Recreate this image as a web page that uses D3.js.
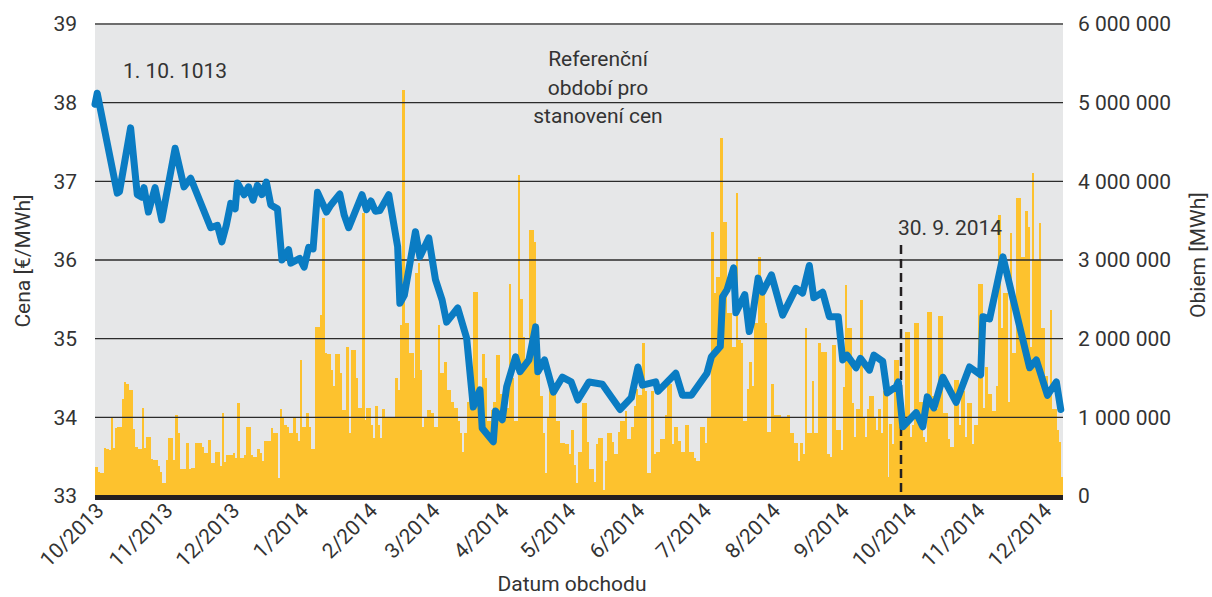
<!DOCTYPE html>
<html>
<head>
<meta charset="utf-8">
<script src="https://cdn.jsdelivr.net/npm/d3@7"></script>
<style>
  body { margin: 0; background: #fff; }
  text { font-family: Roboto, "Noto Sans", sans-serif; fill: #333; }
</style>
</head>
<body>
<svg id="chart"></svg>
<script>
// data period
const START = "2013-10-01";
const END = "2014-12-10";
const REF_END = "2014-09-30";

const monthTicks = ["2013-10-01", "2013-11-01", "2013-12-01", "2014-01-01", "2014-02-01", "2014-03-01",
    "2014-04-01", "2014-05-01", "2014-06-01", "2014-07-01", "2014-08-01", "2014-09-01",
    "2014-10-01", "2014-11-01", "2014-12-01"];
const priceTicks = [33, 34, 35, 36, 37, 38, 39];
const volumeTicks = [0, 1000000, 2000000, 3000000, 4000000, 5000000, 6000000];

// daily volume, thousands of MWh, from 1.10.2013
const volumeK = [
    370,300,290,290,610,600,580,990,610,870,
    880,880,1230,1450,1420,1350,1350,850,620,600,
    600,1120,610,750,750,470,460,460,380,300,
    165,170,460,740,740,460,1030,800,340,340,
    340,670,340,350,350,680,680,680,620,550,
    550,710,420,420,560,560,380,1050,430,520,
    520,520,550,480,1180,480,480,520,880,880,
    520,500,500,600,550,450,700,700,700,860,
    800,800,230,1100,1000,900,880,800,800,1000,
    800,700,1730,880,880,1050,880,600,600,2150,
    2150,2300,3530,1820,1800,1800,1600,1400,1800,1800,
    1560,1090,1090,1890,800,1850,1850,1500,1120,1120,
    3600,970,1120,1120,900,740,1150,900,740,1100,
    1000,990,990,1010,1010,1500,1350,2170,5160,2200,
    2200,1820,1820,1500,2830,2960,1600,880,1000,1090,
    1090,1050,880,880,2170,1560,1560,1700,1350,1350,
    1200,1120,1120,950,800,560,800,1200,1600,1600,
    2590,2590,1330,1330,1800,1500,950,950,1090,1200,
    1790,1790,1300,950,1120,1120,2700,1500,950,950,
    4080,2500,2020,1690,1690,3380,3380,3230,1930,1930,
    1270,800,290,1000,1420,1400,1330,950,950,670,
    670,660,660,540,840,400,160,560,560,1180,
    1180,690,340,340,180,660,740,740,80,450,
    800,800,690,530,530,810,950,950,1080,720,
    720,880,1150,1360,1290,1290,1940,1340,290,290,
    1330,540,560,560,720,720,1030,1430,1430,660,
    880,880,700,560,560,900,900,560,560,480,
    440,440,880,880,670,1010,1010,3360,2580,2790,
    2790,4550,3480,3480,2320,2320,1890,1890,3850,1980,
    1950,950,950,1360,1700,1400,2200,2200,3040,2580,
    2580,2200,810,810,1420,1030,1030,1030,1000,990,
    990,1030,800,800,670,670,440,670,540,2140,
    800,800,1460,800,800,1940,1830,1830,1830,540,
    490,1920,1920,840,840,580,1390,2680,2140,2140,
    1180,750,1100,1100,2490,1000,750,1100,1270,1270,
    990,840,1100,800,1340,1340,240,920,660,1730,
    1730,900,1060,900,2090,2090,750,900,2200,2200,
    1200,1200,750,690,2340,2340,1270,1270,1100,2290,
    2290,1060,1060,720,620,620,1470,1470,900,1340,
    1340,750,1180,1180,660,900,900,2700,2700,1120,
    1640,1300,1300,1080,1080,1400,3570,2140,2580,2580,
    1200,3340,1820,1820,3790,3790,3040,3040,3620,3420,
    1890,4100,3000,3000,3470,2140,2140,1530,1270,2360,
    1100,1100,840,690,240
];

// price line: day offset from 1.10.2013 and price in EUR/MWh
const priceDay = [0,1,10,11,16,19,21,22,24,27,30,36,40,43,46,52,55,57,59,61,63,64,67,69,71,73,75,77,79,82,
    84,87,88,92,94,96,98,100,104,106,110,112,114,120,122,124,126,128,132,136,137,139,144,146,150,153,156,158,163,167,
    170,173,174,179,180,183,185,189,191,195,198,199,202,206,210,214,217,222,228,231,236,241,244,246,252,253,261,264,268,275,
    277,281,282,284,287,288,292,294,295,298,300,304,309,315,318,321,323,327,330,334,336,338,342,344,348,350,354,356,360,361,
    363,369,372,374,377,381,387,393,398,399,402,408,420,423,428,432,434];
const price = [37.98,38.12,36.85,36.87,37.68,36.83,36.80,36.92,36.61,36.92,36.51,37.42,36.93,37.04,36.83,36.41,36.44,36.23,36.44,36.72,36.65,36.98,36.83,36.93,36.76,36.95,36.83,36.99,36.70,36.65,
    36.00,36.13,35.96,36.02,35.91,36.16,36.14,36.86,36.61,36.70,36.84,36.57,36.41,36.83,36.64,36.75,36.62,36.63,36.83,36.17,35.45,35.55,36.36,36.04,36.28,35.75,35.49,35.21,35.39,35.01,
    34.13,34.35,33.86,33.69,34.08,33.97,34.39,34.77,34.58,34.73,35.15,34.58,34.73,34.32,34.51,34.45,34.22,34.45,34.42,34.30,34.10,34.25,34.64,34.41,34.45,34.33,34.56,34.28,34.28,34.56,
    34.77,34.90,35.53,35.62,35.90,35.33,35.56,35.09,35.20,35.77,35.59,35.81,35.30,35.64,35.58,35.93,35.52,35.59,35.28,35.28,34.73,34.79,34.63,34.75,34.60,34.79,34.71,34.31,34.39,34.45,
    33.88,34.06,33.88,34.26,34.12,34.51,34.19,34.64,34.54,35.28,35.25,36.04,34.63,34.73,34.28,34.45,34.10];

drawChart();

function drawChart() {
    const WIDTH = 1212, HEIGHT = 597;
    const LEFT = 95, RIGHT = 1063, TOP = 24, BOTTOM = 496;

    const parse = d3.timeParse("%Y-%m-%d");
    const t0 = parse(START);
    const x = d3.scaleTime().domain([t0, parse(END)]).range([LEFT, RIGHT]);
    const yPrice = d3.scaleLinear().domain([33, 39]).range([BOTTOM, TOP]);
    const yVol = d3.scaleLinear().domain([0, 6000000]).range([BOTTOM, TOP]);

    const svg = d3.select("#chart").attr("width", WIDTH).attr("height", HEIGHT);

    // plot background
    svg.append("rect")
        .attr("x", LEFT).attr("y", TOP)
        .attr("width", RIGHT - LEFT).attr("height", BOTTOM - TOP)
        .attr("fill", "#e6e7e8");

    // volume bars
    const bars = volumeK.map((v, i) => ({ day: d3.timeDay.offset(t0, i), v: v * 1000 }));
    svg.append("g")
        .attr("shape-rendering", "crispEdges")
        .selectAll("rect")
        .data(bars)
        .join("rect")
        .attr("x", d => x(d.day))
        .attr("width", d => x(d3.timeDay.offset(d.day, 1)) - x(d.day) + 0.3)
        .attr("y", d => yVol(d.v))
        .attr("height", d => BOTTOM - yVol(d.v))
        .attr("fill", "#fdc22e");

    // grid
    svg.append("g").selectAll("line")
        .data(priceTicks.filter(v => v > 33))
        .join("line")
        .attr("x1", LEFT).attr("x2", RIGHT)
        .attr("y1", d => yPrice(d)).attr("y2", d => yPrice(d))
        .attr("stroke", d => d === 39 ? "#6d6d6d" : "#2b2b2b")
        .attr("stroke-width", d => d === 39 ? 2 : 1.4);

    // baseline
    svg.append("line")
        .attr("x1", LEFT).attr("x2", RIGHT)
        .attr("y1", BOTTOM + 1.5).attr("y2", BOTTOM + 1.5)
        .attr("stroke", "#231f20").attr("stroke-width", 5);

    // reference period end
    const refX = x(parse(REF_END)) - 4;
    svg.append("line")
        .attr("x1", refX).attr("x2", refX)
        .attr("y1", 245).attr("y2", BOTTOM)
        .attr("stroke", "#231f20").attr("stroke-width", 2.5)
        .attr("stroke-dasharray", "9,5");

    // price line
    const pts = priceDay.map((d, i) => ({ day: d3.timeDay.offset(t0, d), p: price[i] }));
    const line = d3.line().x(d => x(d.day)).y(d => yPrice(d.p));
    svg.append("path")
        .datum(pts)
        .attr("d", line)
        .attr("fill", "none")
        .attr("stroke", "#0a7cc3")
        .attr("stroke-width", 7)
        .attr("stroke-linejoin", "round")
        .attr("stroke-linecap", "round");

    // axes
    const fmtVol = d => d3.format(",")(d).replace(/,/g, " ");
    const leftAxis = svg.append("g")
        .attr("transform", `translate(${LEFT},0)`)
        .call(d3.axisLeft(yPrice).tickValues(priceTicks).tickSize(0).tickPadding(18).tickFormat(d3.format("d")));
    const rightAxis = svg.append("g")
        .attr("transform", `translate(${RIGHT},0)`)
        .call(d3.axisRight(yVol).tickValues(volumeTicks).tickSize(0).tickPadding(15).tickFormat(fmtVol));
    [leftAxis, rightAxis].forEach(a => {
        a.select(".domain").remove();
        a.selectAll("text").style("font-size", "21px").attr("fill", "#333")
            .style("font-family", "Roboto, sans-serif");
    });

    const fmtMonth = d3.timeFormat("%-m/%Y");
    svg.append("g").selectAll("text")
        .data(monthTicks.map(parse))
        .join("text")
        .attr("transform", d => `translate(${x(d) + 10},512) rotate(-45)`)
        .attr("text-anchor", "end")
        .style("font-size", "21px")
        .text(fmtMonth);

    // titles
    svg.append("text")
        .attr("transform", "translate(30,261) rotate(-90)")
        .attr("text-anchor", "middle")
        .style("font-size", "21px")
        .text("Cena [€/MWh]");
    svg.append("text")
        .attr("transform", "translate(1205,255) rotate(-90)")
        .attr("text-anchor", "middle")
        .style("font-size", "21px")
        .text("Obiem [MWh]");
    svg.append("text")
        .attr("x", 572).attr("y", 591)
        .attr("text-anchor", "middle")
        .style("font-size", "21px")
        .text("Datum obchodu");

    // annotations
    svg.append("text")
        .attr("x", 123).attr("y", 78)
        .style("font-size", "21px")
        .text("1. 10. 1013");
    svg.append("text")
        .attr("x", 898).attr("y", 235)
        .style("font-size", "21px")
        .text("30. 9. 2014");
    const refLines = ["Referenční", "období pro", "stanovení cen"];
    svg.append("g").selectAll("text")
        .data(refLines)
        .join("text")
        .attr("x", 598)
        .attr("y", (d, i) => 66 + i * 28.5)
        .attr("text-anchor", "middle")
        .style("font-size", "21px")
        .text(d => d);
}
</script>
</body>
</html>
